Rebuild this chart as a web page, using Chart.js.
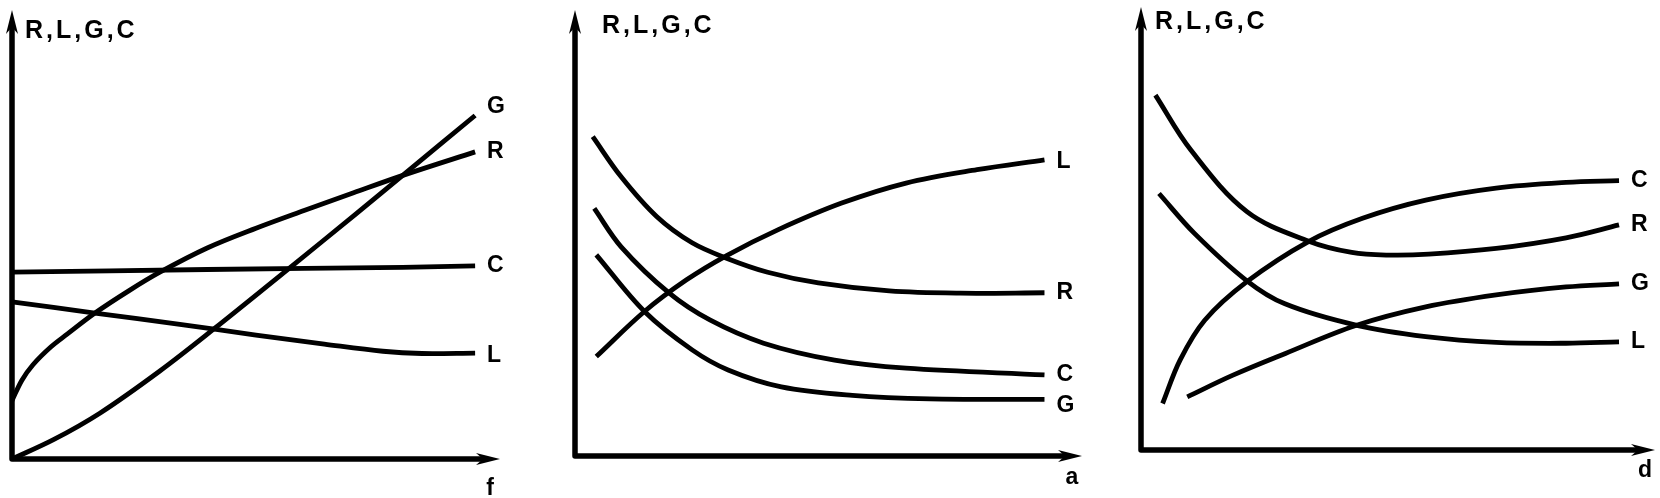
<!DOCTYPE html>
<html>
<head>
<meta charset="utf-8">
<script src="https://cdn.jsdelivr.net/npm/chart.js@4.4.1/dist/chart.umd.min.js"></script>
<style>
  html, body { margin: 0; padding: 0; background: #fff; }
  #wrap { position: relative; width: 1660px; height: 498px; overflow: hidden; }
  .panel { position: absolute; top: 0; height: 498px; }
</style>
</head>
<body>
<div id="wrap">
  <div class="panel" style="left:0;width:545px"><canvas id="chartF"></canvas></div>
  <div class="panel" style="left:545px;width:550px"><canvas id="chartA"></canvas></div>
  <div class="panel" style="left:1095px;width:565px"><canvas id="chartD"></canvas></div>
</div>
<script>
// values, both axes scaled 0..100 (origin -> arrow tip)

// panel 1: against f
const fG = [[0, 0], [8.5, 4.3], [18, 10.2], [30.3, 19.6], [41.3, 28.9], [56.6, 42.3], [70.5, 54.6], [81.3, 64.3], [94.9, 76.5]];
const fR = [[0, 13], [2, 17.5], [4.3, 21], [8, 25], [11.3, 27.8], [17, 32.5], [24, 37.5], [30.3, 41.6], [40, 47], [50, 51.4], [60, 55.4], [70, 59.3], [81, 63.5], [94.9, 68.4]];
const fC = [[0, 41.6], [40, 42.2], [80, 42.7], [94.9, 43]];
const fL = [[0, 35], [17, 32.5], [34.4, 30], [50, 27.6], [64, 25.6], [76, 24], [84, 23.5], [94.9, 23.6]];

// panel 2: against a
const aL = [[4.2, 22.3], [13.7, 32.4], [22, 39.5], [30, 45], [40, 50.7], [52.6, 56.7], [65.3, 61.2], [79.3, 64.2], [92.6, 66.4]];
const aR = [[3.5, 71.6], [9.1, 62.6], [16.1, 53.7], [23.1, 47.8], [30, 44.3], [38, 41.2], [48, 38.8], [62, 37], [76, 36.5], [92.6, 36.6]];
const aC = [[3.8, 55.5], [9.1, 46.9], [18.6, 36.5], [26.6, 30.5], [37.2, 25.3], [51.2, 21.5], [65.3, 19.7], [92.6, 18.2]];
const aG = [[4.2, 45.1], [13.7, 32.4], [23.1, 23.8], [30.2, 19.3], [40.7, 15.5], [54.7, 13.6], [70, 12.8], [92.6, 12.7]];

// panel 3: against d
const dC = [[4.2, 10.5], [7.6, 20.3], [12.4, 29.3], [20.6, 38], [32.5, 47], [43.1, 52.3], [55.4, 56.4], [69.1, 59.1], [82.7, 60.4], [93, 60.8]];
const dR = [[2.8, 80.1], [9.7, 67.7], [20.6, 53.8], [32.5, 47.2], [41, 44.6], [48, 44], [56, 44.2], [69.1, 45.5], [82.7, 47.9], [93, 50.8]];
const dG = [[9, 12], [17.9, 16.9], [28.1, 21.8], [41.8, 28.1], [55.4, 32.3], [69.1, 35], [82.7, 36.8], [93, 37.5]];
const dL = [[3.5, 57.9], [10.4, 48.9], [20.6, 38.2], [28, 33], [41.8, 28.2], [55.4, 25.6], [69.1, 24.3], [82.7, 24.1], [93, 24.4]];

const yTitle = 'R,L,G,C';
const FONT = 'bold 23px "Liberation Sans", Arial, sans-serif';

function arrowHead(ctx, x, y, dx, dy) {
  // slim barbed arrow, tip at (x, y), pointing along (dx, dy)
  const len = 24, half = 6, notch = 7;
  const px = -dy, py = dx;
  ctx.beginPath();
  ctx.moveTo(x, y);
  ctx.lineTo(x - dx * len + px * half, y - dy * len + py * half);
  ctx.lineTo(x - dx * (len - notch), y - dy * (len - notch));
  ctx.lineTo(x - dx * len - px * half, y - dy * len - py * half);
  ctx.closePath();
  ctx.fill();
}

const sketchAxes = {
  id: 'sketchAxes',
  afterDatasetsDraw(chart, args, opts) {
    const { ctx, chartArea: a } = chart;
    ctx.save();
    ctx.strokeStyle = '#000';
    ctx.fillStyle = '#000';
    ctx.lineWidth = 5.5;
    ctx.lineJoin = 'round';
    ctx.beginPath();
    ctx.moveTo(a.left, a.top + 12);
    ctx.lineTo(a.left, a.bottom);
    ctx.lineTo(a.right - 12, a.bottom);
    ctx.stroke();
    arrowHead(ctx, a.left, a.top, 0, -1);
    arrowHead(ctx, a.right, a.bottom, 1, 0);

    ctx.font = FONT;
    ctx.textBaseline = 'middle';

    // curve names at the right end of each line
    ctx.textAlign = 'left';
    chart.data.datasets.forEach((ds, i) => {
      const pts = chart.getDatasetMeta(i).data;
      const end = pts[pts.length - 1];
      ctx.fillText(ds.label, end.x + 12, end.y + (ds.labelDy || 0));
    });

    // axis names
    ctx.textAlign = 'center';
    ctx.fillText(opts.xName, a.right - 10, a.bottom + opts.xNameDy);
    ctx.textAlign = 'left';
    ctx.letterSpacing = '3px';
    ctx.font = 'bold 25px "Liberation Sans", Arial, sans-serif';
    ctx.fillText(yTitle, a.left + opts.titleDx, opts.titleY);
    ctx.restore();
  }
};

function line(label, pts, labelDy) {
  return {
    label,
    data: pts.map(p => ({ x: p[0], y: p[1] })),
    borderColor: '#000',
    borderWidth: 4.8,
    pointRadius: 0,
    tension: 0.35,
    borderCapStyle: 'butt',
    clip: false,
    labelDy: labelDy || 0
  };
}

function makeChart(id, datasets, padding, xName, xNameDy, titleDx, titleY) {
  return new Chart(document.getElementById(id), {
    type: 'line',
    data: { datasets },
    options: {
      responsive: true,
      maintainAspectRatio: false,
      animation: false,
      layout: { padding },
      scales: {
        x: { type: 'linear', min: 0, max: 100, display: false },
        y: { type: 'linear', min: 0, max: 100, display: false }
      },
      plugins: {
        legend: { display: false },
        tooltip: { enabled: false },
        sketchAxes: { xName, xNameDy, titleDx, titleY }
      }
    },
    plugins: [sketchAxes]
  });
}

makeChart('chartF',
  [line('G', fG, -9), line('R', fR), line('C', fC), line('L', fL, 3)],
  { left: 12, right: 45, top: 10, bottom: 39 }, 'f', 30, 13, 31);

makeChart('chartA',
  [line('L', aL, 2), line('R', aR), line('C', aC), line('G', aG, 6)],
  { left: 30, right: 13, top: 10, bottom: 42 }, 'a', 22, 27, 26);

makeChart('chartD',
  [line('C', dC), line('R', dR), line('G', dG), line('L', dL)],
  { left: 46, right: 5, top: 7, bottom: 48 }, 'd', 21, 14, 22);
</script>
</body>
</html>
